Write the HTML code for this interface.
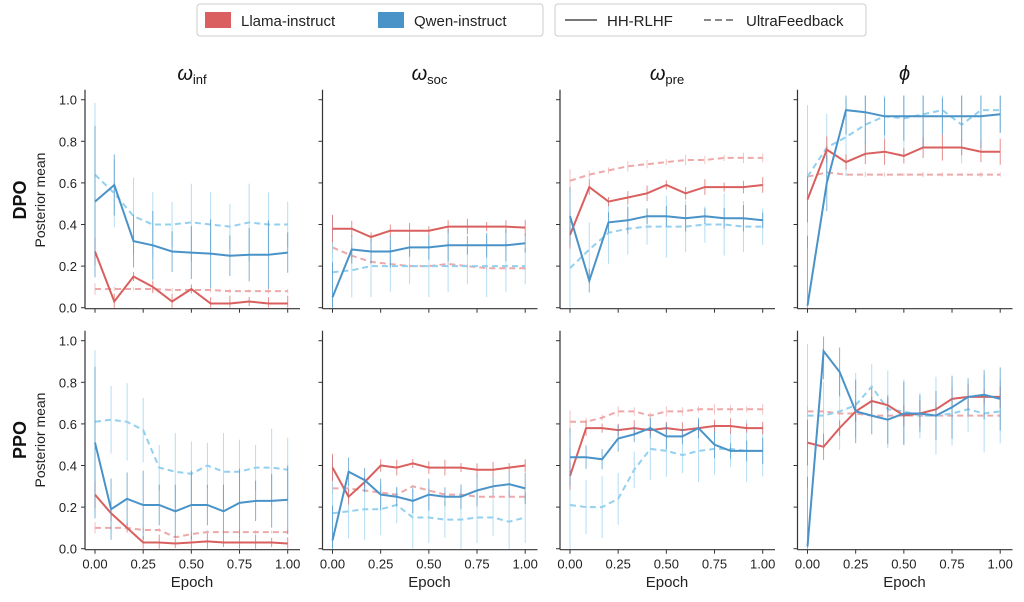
<!DOCTYPE html><html><head><style>body{margin:0;background:#fff}svg{display:block;font-family:"Liberation Sans",sans-serif}</style></head><body>
<svg id="s" width="1024" height="602" xmlns="http://www.w3.org/2000/svg"></svg>
<script>
const S=document.getElementById('s');let h='';
h+='<rect x="197" y="4" width="346" height="32" rx="3" fill="#fff" stroke="#ccc"/>';
h+='<rect x="205" y="12" width="26" height="16" fill="#d9605e"/><text x="241" y="26" font-size="15" fill="#222">Llama-instruct</text>';
h+='<rect x="378" y="12" width="26" height="16" fill="#4a93c8"/><text x="414" y="26" font-size="15" fill="#222">Qwen-instruct</text>';
h+='<rect x="555" y="4" width="311" height="32" rx="3" fill="#fff" stroke="#ccc"/>';
h+='<line x1="565" y1="20" x2="597" y2="20" stroke="#777" stroke-width="2"/><text x="607" y="26" font-size="15" fill="#222">HH-RLHF</text>';
h+='<line x1="704" y1="20" x2="736" y2="20" stroke="#888" stroke-width="2" stroke-dasharray="7,4"/><text x="746" y="26" font-size="15" fill="#222">UltraFeedback</text>';
const titles=[['ω','inf'],['ω','soc'],['ω','pre'],['ϕ','']];
const D=[
[[.27,.03,.15,.10,.03,.09,.02,.02,.03,.02,.02],[.09,.09,.09,.09,.085,.085,.085,.08,.08,.08,.08],[.51,.59,.32,.30,.27,.265,.26,.25,.255,.255,.265],[.64,.55,.44,.40,.40,.41,.40,.39,.41,.40,.40]],
[[.38,.38,.34,.37,.37,.37,.39,.39,.39,.39,.385],[.29,.25,.22,.21,.20,.20,.21,.20,.19,.19,.19],[.05,.28,.27,.27,.29,.29,.30,.30,.30,.30,.31],[.17,.18,.20,.20,.20,.20,.20,.20,.20,.20,.20]],
[[.35,.58,.51,.53,.55,.59,.55,.58,.58,.58,.59],[.61,.64,.66,.68,.69,.70,.71,.71,.72,.72,.72],[.44,.13,.41,.42,.44,.44,.43,.44,.43,.43,.42],[.19,.28,.36,.38,.39,.39,.39,.40,.40,.39,.39]],
[[.52,.76,.70,.74,.75,.73,.77,.77,.77,.75,.75],[.63,.65,.64,.64,.64,.64,.64,.64,.64,.64,.64],[.01,.60,.95,.94,.92,.92,.92,.92,.92,.92,.93],[.63,.77,.82,.88,.92,.91,.93,.95,.88,.95,.95]],
[[.26,.17,.10,.03,.03,.025,.03,.035,.03,.03,.03,.03,.025],[.10,.10,.10,.09,.09,.055,.07,.08,.08,.08,.08,.08,.08],[.51,.19,.24,.21,.21,.18,.21,.21,.18,.22,.23,.23,.235],[.61,.62,.61,.57,.39,.37,.36,.40,.37,.37,.39,.39,.38]],
[[.39,.25,.32,.40,.39,.41,.39,.39,.39,.38,.38,.39,.40],[.29,.29,.28,.27,.26,.30,.28,.26,.26,.25,.25,.25,.25],[.04,.37,.33,.26,.25,.23,.26,.25,.25,.28,.30,.31,.29],[.17,.18,.19,.19,.21,.15,.15,.14,.14,.15,.15,.13,.15]],
[[.35,.58,.58,.57,.58,.57,.58,.57,.58,.59,.59,.58,.58],[.61,.61,.63,.66,.66,.64,.66,.66,.67,.67,.67,.67,.67],[.44,.44,.43,.53,.55,.58,.54,.54,.58,.50,.47,.47,.47],[.21,.20,.20,.24,.38,.48,.47,.45,.47,.48,.48,.47,.47]],
[[.51,.49,.58,.66,.71,.69,.64,.65,.67,.72,.73,.73,.73],[.66,.66,.65,.65,.64,.64,.64,.64,.64,.64,.64,.64,.64],[.01,.95,.85,.66,.64,.62,.65,.65,.64,.68,.73,.74,.72],[.64,.64,.66,.69,.78,.67,.66,.64,.64,.65,.67,.65,.66]]];
const E=[[.03,.01,.13,.15],[.03,.01,.06,.12],[.03,.02,.05,.12],[.05,.01,.12,.15]];
const col=['#d9605e','#eda9a9','#4a93c8','#93d0ef'];
for(let r=0;r<2;r++)for(let c=0;c<4;c++){
 const sx=85+c*237.5, x0=sx+10, xw=192.7, y0=r?548.7:307.7, yh=208, top=y0-218;
 const X=t=>x0+t*xw, Y=v=>y0-v*yh;
 h+=`<line x1="${sx}" y1="${top}" x2="${sx}" y2="${y0+1}" stroke="#333" stroke-width="1.2"/>`;
 h+=`<line x1="${sx}" y1="${y0+1}" x2="${sx+215}" y2="${y0+1}" stroke="#333" stroke-width="1.2"/>`;
 for(let k=0;k<=5;k++){const y=Y(k*.2);h+=`<line x1="${sx-4}" y1="${y}" x2="${sx}" y2="${y}" stroke="#333"/>`;if(c==0)h+=`<text x="${sx-8}" y="${y+5}" font-size="13" text-anchor="end" fill="#222">${(k*.2).toFixed(1)}</text>`;}
 for(let k=0;k<=4;k++){const x=X(k*.25);h+=`<line x1="${x}" y1="${y0+1}" x2="${x}" y2="${y0+5}" stroke="#333"/>`;if(r)h+=`<text x="${x}" y="${y0+20}" font-size="13" text-anchor="middle" fill="#222">${(k*.25).toFixed(2)}</text>`;}
 if(r)h+=`<text x="${sx+107}" y="587" font-size="15" text-anchor="middle" fill="#222">Epoch</text>`;
 else h+=`<text x="${sx+107}" y="80" font-size="20" text-anchor="middle" fill="#111" font-style="italic">${titles[c][0]}<tspan font-size="13" font-style="normal" dy="4">${titles[c][1]}</tspan></text>`;
 const d=D[r*4+c];
 for(const s of [1,3,0,2]){const a=d[s],n=a.length;let p='';
  a.forEach((v,i)=>{const x=X(i/(n-1));let e=E[c][s]*(1+0.3*Math.sin(i*2.1+s));if(i==0)e*=2.2;if(i==1&&s>=2)e*=1.5;
   h+=`<line x1="${x}" y1="${Y(Math.max(0,v-e))}" x2="${x}" y2="${Y(Math.min(1.02,v+e))}" stroke="${col[s]}" stroke-width="1" opacity=".7"/>`;
   p+=(i?'L':'M')+x.toFixed(1)+','+Y(v).toFixed(1);});
  h+=`<path d="${p}" fill="none" stroke="${col[s]}" stroke-width="2" ${s%2?'stroke-dasharray="6,4"':''}/>`;}
}
h+='<text transform="translate(26,200) rotate(-90)" font-size="18" font-weight="bold" text-anchor="middle" fill="#111">DPO</text>';
h+='<text transform="translate(26,440) rotate(-90)" font-size="18" font-weight="bold" text-anchor="middle" fill="#111">PPO</text>';
h+='<text transform="translate(45,200) rotate(-90)" font-size="14" text-anchor="middle" fill="#222">Posterior mean</text>';
h+='<text transform="translate(45,440) rotate(-90)" font-size="14" text-anchor="middle" fill="#222">Posterior mean</text>';
S.innerHTML=h;
</script></body></html>
